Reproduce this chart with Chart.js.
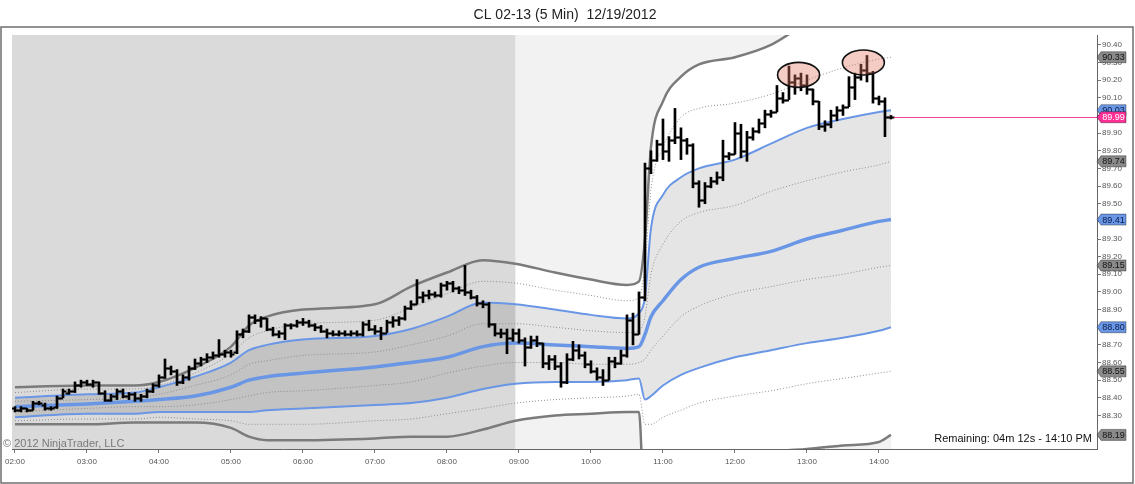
<!DOCTYPE html>
<html>
<head>
<meta charset="utf-8">
<script src="https://cdn.jsdelivr.net/npm/chart.js@4.4.1/dist/chart.umd.min.js"></script>
<style>
  body { margin: 0; background: #fff; }
  canvas { display: block; }
</style>
</head>
<body>
<canvas id="myChart" width="1135" height="484"></canvas>
<script>
const chartTitle = 'CL 02-13 (5 Min)  12/19/2012';
const watermark = '\u00A9 2012 NinjaTrader, LLC';
const remainingText = 'Remaining: 04m 12s - 14:10 PM';

// 5 minute bars, first one at 02:00
const firstBar = '02:00';
const barMinutes = 5;

const barOpen = [
  88.34, 88.33, 88.34, 88.33, 88.37, 88.36, 88.34, 88.35, 88.40, 88.43, 88.44, 88.47,
  88.49, 88.48, 88.49, 88.43, 88.39, 88.41, 88.44, 88.41, 88.42, 88.40, 88.41, 88.44,
  88.47, 88.52, 88.57, 88.55, 88.49, 88.52, 88.57, 88.60, 88.62, 88.63, 88.64, 88.65,
  88.66, 88.66, 88.76, 88.78, 88.86, 88.84, 88.85, 88.79, 88.76, 88.77, 88.81, 88.81,
  88.83, 88.83, 88.81, 88.80, 88.78, 88.77, 88.76, 88.77, 88.76, 88.77, 88.76, 88.82,
  88.79, 88.78, 88.77, 88.83, 88.84, 88.85, 88.91, 88.93, 88.97, 88.98, 88.99, 88.98,
  89.04, 89.05, 89.02, 89.01, 89.00, 88.97, 88.94, 88.93, 88.82, 88.77, 88.77, 88.74,
  88.77, 88.73, 88.69, 88.73, 88.71, 88.60, 88.62, 88.58, 88.49, 88.62, 88.67, 88.64,
  88.59, 88.55, 88.52, 88.50, 88.61, 88.60, 88.64, 88.84, 88.76, 88.97, 89.70, 89.75,
  89.84, 89.80, 89.86, 89.88, 89.86, 89.83, 89.62, 89.52, 89.60, 89.63, 89.65, 89.77,
  89.78, 89.90, 89.80, 89.88, 89.91, 89.96, 90.01, 90.02, 90.10, 90.09, 90.19, 90.21,
  90.17, 90.15, 90.08, 89.94, 89.95, 90.00, 90.03, 90.05, 90.16, 90.22, 90.26, 90.24,
  90.10, 90.08, 89.99
];
const barHigh = [
  88.35, 88.35, 88.34, 88.38, 88.38, 88.37, 88.35, 88.41, 88.45, 88.45, 88.49, 88.50,
  88.50, 88.50, 88.49, 88.44, 88.42, 88.45, 88.45, 88.43, 88.43, 88.42, 88.45, 88.48,
  88.53, 88.62, 88.58, 88.56, 88.53, 88.58, 88.62, 88.63, 88.65, 88.66, 88.73, 88.67,
  88.67, 88.78, 88.79, 88.87, 88.87, 88.86, 88.85, 88.80, 88.78, 88.82, 88.82, 88.84,
  88.85, 88.84, 88.82, 88.81, 88.79, 88.78, 88.78, 88.78, 88.78, 88.78, 88.83, 88.84,
  88.81, 88.80, 88.84, 88.86, 88.86, 88.92, 88.95, 89.07, 89.00, 89.01, 89.00, 89.05,
  89.06, 89.06, 89.03, 89.15, 89.01, 88.98, 88.95, 88.94, 88.82, 88.79, 88.79, 88.79,
  88.79, 88.74, 88.75, 88.75, 88.71, 88.64, 88.64, 88.60, 88.65, 88.72, 88.70, 88.66,
  88.61, 88.57, 88.56, 88.63, 88.63, 88.67, 88.87, 88.88, 89.00, 89.73, 89.80, 89.86,
  89.98, 89.88, 90.04, 89.93, 89.87, 89.84, 89.63, 89.62, 89.65, 89.68, 89.86, 89.79,
  89.96, 89.95, 89.91, 89.93, 89.98, 90.03, 90.03, 90.17, 90.13, 90.28, 90.23, 90.24,
  90.23, 90.15, 90.08, 89.97, 90.03, 90.05, 90.06, 90.22, 90.24, 90.29, 90.34, 90.25,
  90.11, 90.10, 90.00
];
const barLow = [
  88.32, 88.32, 88.32, 88.33, 88.36, 88.33, 88.33, 88.34, 88.40, 88.42, 88.43, 88.46,
  88.47, 88.46, 88.42, 88.38, 88.38, 88.39, 88.40, 88.39, 88.38, 88.38, 88.40, 88.43,
  88.46, 88.51, 88.53, 88.47, 88.48, 88.50, 88.56, 88.58, 88.60, 88.62, 88.63, 88.63,
  88.63, 88.65, 88.74, 88.77, 88.82, 88.80, 88.78, 88.75, 88.74, 88.73, 88.79, 88.80,
  88.81, 88.80, 88.78, 88.77, 88.74, 88.75, 88.75, 88.75, 88.75, 88.75, 88.75, 88.78,
  88.76, 88.73, 88.77, 88.80, 88.81, 88.84, 88.90, 88.93, 88.94, 88.96, 88.97, 88.97,
  89.01, 89.00, 88.99, 88.98, 88.96, 88.92, 88.91, 88.80, 88.75, 88.74, 88.65, 88.72,
  88.71, 88.58, 88.68, 88.69, 88.57, 88.56, 88.56, 88.46, 88.48, 88.61, 88.62, 88.57,
  88.54, 88.50, 88.47, 88.50, 88.57, 88.59, 88.63, 88.70, 88.76, 88.95, 89.67, 89.74,
  89.75, 89.74, 89.84, 89.75, 89.78, 89.59, 89.48, 89.50, 89.59, 89.61, 89.63, 89.75,
  89.78, 89.76, 89.74, 89.86, 89.90, 89.93, 89.99, 90.02, 90.07, 90.09, 90.12, 90.14,
  90.12, 90.06, 89.92, 89.91, 89.93, 89.97, 90.00, 90.05, 90.09, 90.20, 90.19, 90.07,
  90.06, 89.88, 89.98
];
const barClose = [
  88.33, 88.34, 88.33, 88.37, 88.37, 88.34, 88.34, 88.40, 88.44, 88.44, 88.47, 88.49,
  88.48, 88.49, 88.43, 88.39, 88.41, 88.44, 88.41, 88.42, 88.40, 88.41, 88.44, 88.47,
  88.52, 88.57, 88.55, 88.49, 88.52, 88.57, 88.60, 88.62, 88.63, 88.64, 88.65, 88.66,
  88.65, 88.76, 88.78, 88.86, 88.84, 88.85, 88.79, 88.76, 88.77, 88.81, 88.81, 88.83,
  88.83, 88.81, 88.80, 88.78, 88.77, 88.76, 88.77, 88.76, 88.77, 88.76, 88.82, 88.79,
  88.78, 88.77, 88.83, 88.84, 88.85, 88.91, 88.93, 88.97, 88.98, 88.99, 88.98, 89.04,
  89.05, 89.02, 89.01, 89.00, 88.97, 88.94, 88.93, 88.82, 88.77, 88.77, 88.74, 88.77,
  88.73, 88.69, 88.73, 88.71, 88.60, 88.62, 88.58, 88.49, 88.62, 88.67, 88.64, 88.59,
  88.55, 88.52, 88.50, 88.61, 88.60, 88.64, 88.84, 88.76, 88.97, 89.70, 89.75, 89.84,
  89.80, 89.86, 89.88, 89.86, 89.83, 89.62, 89.52, 89.60, 89.63, 89.65, 89.77, 89.78,
  89.90, 89.80, 89.88, 89.91, 89.96, 90.01, 90.02, 90.10, 90.09, 90.19, 90.21, 90.17,
  90.15, 90.08, 89.94, 89.95, 90.00, 90.03, 90.05, 90.16, 90.22, 90.26, 90.24, 90.10,
  90.08, 89.99, 89.99
];

// VWAP and its deviation bands, read at these times
const bandTimes = ['02:00', '03:00', '03:40', '04:00', '04:30', '05:00', '05:15', '05:30', '06:00', '07:00',
  '07:30', '08:00', '08:30', '08:57', '09:30', '10:00', '10:30', '10:40', '10:45', '10:50',
  '11:00', '11:15', '11:30', '12:00', '12:30', '13:00', '13:30', '14:00', '14:10'];
const vwap = [88.35, 88.365, 88.38, 88.39, 88.41, 88.46, 88.50, 88.52, 88.54, 88.575,
  88.60, 88.63, 88.69, 88.71, 88.70, 88.69, 88.68, 88.69, 88.76, 88.86,
  88.95, 89.07, 89.14, 89.19, 89.23, 89.30, 89.35, 89.40, 89.41];
const upper1 = [88.38, 88.39, 88.40, 88.42, 88.47, 88.53, 88.59, 88.61, 88.64, 88.66,
  88.70, 88.75, 88.82, 88.82, 88.80, 88.78, 88.77, 88.78, 88.86, 89.10,
  89.27, 89.40, 89.45, 89.49, 89.57, 89.63, 89.68, 89.72, 89.74];
const lower1 = [88.32, 88.34, 88.35, 88.35, 88.36, 88.39, 88.41, 88.43, 88.44, 88.47,
  88.49, 88.54, 88.58, 88.60, 88.60, 88.59, 88.59, 88.60, 88.62, 88.67,
  88.75, 88.86, 88.92, 88.99, 89.03, 89.07, 89.10, 89.14, 89.15];
const upper2 = [88.40, 88.42, 88.43, 88.46, 88.52, 88.60, 88.67, 88.70, 88.73, 88.75,
  88.79, 88.86, 88.94, 88.93, 88.90, 88.87, 88.85, 88.88, 88.97, 89.36,
  89.55, 89.65, 89.70, 89.75, 89.84, 89.93, 89.98, 90.02, 90.03];
const lower2 = [88.29, 88.31, 88.31, 88.32, 88.32, 88.32, 88.32, 88.33, 88.34, 88.36,
  88.37, 88.40, 88.45, 88.48, 88.49, 88.49, 88.50, 88.51, 88.39, 88.41,
  88.47, 88.53, 88.57, 88.63, 88.67, 88.71, 88.74, 88.78, 88.80];
const upper3 = [88.43, 88.45, 88.45, 88.47, 88.54, 88.65, 88.74, 88.78, 88.82, 88.84,
  88.91, 88.99, 89.06, 89.05, 89.01, 88.98, 88.95, 88.97, 89.15, 89.58,
  89.82, 89.99, 90.04, 90.07, 90.12, 90.20, 90.27, 90.32, 90.33];
const lower3 = [88.27, 88.28, 88.28, 88.29, 88.28, 88.27, 88.25, 88.25, 88.25, 88.27,
  88.28, 88.31, 88.34, 88.37, 88.39, 88.40, 88.41, 88.42, 88.25, 88.25,
  88.29, 88.33, 88.37, 88.41, 88.44, 88.48, 88.51, 88.54, 88.55];
const upper4 = [88.46, 88.47, 88.47, 88.49, 88.57, 88.69, 88.81, 88.86, 88.90, 88.93,
  89.03, 89.11, 89.18, 89.16, 89.11, 89.07, 89.04, 89.06, 89.30, 89.82,
  90.08, 90.22, 90.29, 90.33, 90.40, 90.52, 90.57, 90.62, 90.65];
const lower4 = [88.25, 88.25, 88.26, 88.26, 88.26, 88.23, 88.18, 88.16, 88.16, 88.17,
  88.18, 88.18, 88.22, 88.27, 88.30, 88.31, 88.32, 88.32, 87.70, 87.72,
  87.80, 87.88, 87.93, 88.01, 88.09, 88.11, 88.13, 88.15, 88.19];

const lastPrice = 89.99;
const yTicks = [88.30, 88.40, 88.50, 88.60, 88.70, 88.80, 88.90, 89.00, 89.10, 89.20, 89.30,
  89.40, 89.50, 89.60, 89.70, 89.80, 89.90, 90.00, 90.10, 90.20, 90.30, 90.40];
const xTicks = ['02:00', '03:00', '04:00', '05:00', '06:00', '07:00', '08:00', '09:00',
  '10:00', '11:00', '12:00', '13:00', '14:00'];
const sessionShade = ['01:57', '08:57'];
const outerFillFrom = '08:57';
// circled highs: [time, price]
const highlights = [['12:53', 90.23], ['13:47', 90.30]];

const toMin = s => { const p = s.split(':'); return Number(p[0]) * 60 + Number(p[1]); };
const toLabel = m => String(Math.floor(m / 60)).padStart(2, '0') + ':' + String(m % 60).padStart(2, '0');

const barTimes = barOpen.map((v, i) => toMin(firstBar) + i * barMinutes);
const series = vals => vals.map((v, i) => ({ x: toMin(bandTimes[i]), y: v }));
const fromIdx = bandTimes.indexOf(outerFillFrom);

const BLUE = '#6a96e6';
const DARK = '#7b7b7b';
const DOT = '#8e8e8e';
const BAND_FILL = 'rgba(0,0,0,0.1)';
const OUTER_FILL = 'rgba(0,0,0,0.05)';

const lineDs = (label, points, color, width, extra) => Object.assign({
  type: 'line',
  label: label,
  data: points,
  borderColor: color,
  borderWidth: width,
  pointRadius: 0,
  cubicInterpolationMode: 'monotone',
  fill: false,
  clip: 0
}, extra || {});

// background shading for the overnight session
const sessionPlugin = {
  id: 'sessionShade',
  beforeDatasetsDraw(chart) {
    const { ctx, chartArea, scales: { x } } = chart;
    const x0 = Math.max(chartArea.left, x.getPixelForValue(toMin(sessionShade[0])));
    const x1 = x.getPixelForValue(toMin(sessionShade[1]));
    ctx.save();
    ctx.fillStyle = '#dadada';
    ctx.fillRect(x0, chartArea.top, x1 - x0, chartArea.bottom - chartArea.top);
    ctx.restore();
  }
};

// open / close ticks of the OHLC bars and the circled highs
const ohlcPlugin = {
  id: 'ohlcTicks',
  afterDatasetsDraw(chart) {
    const { ctx, chartArea, scales: { x, y } } = chart;
    ctx.save();
    ctx.beginPath();
    ctx.rect(chartArea.left, chartArea.top, chartArea.right - chartArea.left, chartArea.bottom - chartArea.top);
    ctx.clip();
    ctx.strokeStyle = '#000';
    ctx.lineWidth = 2;
    barTimes.forEach((t, i) => {
      const px = x.getPixelForValue(t);
      const yo = Math.round(y.getPixelForValue(barOpen[i])) + 0.5;
      const yc = Math.round(y.getPixelForValue(barClose[i])) + 0.5;
      ctx.beginPath();
      ctx.moveTo(px - 3.5, yo);
      ctx.lineTo(px, yo);
      ctx.moveTo(px, yc);
      ctx.lineTo(px + 3.5, yc);
      ctx.stroke();
    });

    highlights.forEach(h => {
      const cx = x.getPixelForValue(toMin(h[0]));
      const cy = y.getPixelForValue(h[1]);
      ctx.beginPath();
      ctx.ellipse(cx, cy, 21, 12.5, 0, 0, Math.PI * 2);
      ctx.fillStyle = 'rgba(230, 120, 100, 0.38)';
      ctx.fill();
      ctx.lineWidth = 1.6;
      ctx.strokeStyle = '#111';
      ctx.stroke();
    });
    ctx.restore();
  }
};

const drawTag = (ctx, left, yPix, text, bg, fg) => {
  const h = 11;
  const x1 = left + 4;
  const x2 = left + 29;
  ctx.beginPath();
  ctx.moveTo(left, yPix);
  ctx.lineTo(x1, yPix - h / 2);
  ctx.lineTo(x2, yPix - h / 2);
  ctx.lineTo(x2, yPix + h / 2);
  ctx.lineTo(x1, yPix + h / 2);
  ctx.closePath();
  ctx.fillStyle = bg;
  ctx.fill();
  ctx.lineWidth = 0.8;
  ctx.strokeStyle = 'rgba(0,0,0,0.45)';
  ctx.stroke();
  ctx.fillStyle = fg;
  ctx.fillText(text, (x1 + x2) / 2, yPix + 0.5);
};

// title, texts, price line and the value tags on the price axis
const overlayPlugin = {
  id: 'overlay',
  afterDraw(chart) {
    const { ctx, chartArea, scales: { x, y } } = chart;
    ctx.save();

    ctx.strokeStyle = '#6e6e6e';
    ctx.lineWidth = 1.5;
    ctx.strokeRect(1, 27, 1132, 456);

    ctx.fillStyle = '#222';
    ctx.font = '14px "Liberation Sans", Arial, sans-serif';
    ctx.textAlign = 'center';
    ctx.textBaseline = 'alphabetic';
    ctx.fillText(chartTitle, 565, 19);

    ctx.font = '11px "Liberation Sans", Arial, sans-serif';
    ctx.textAlign = 'left';
    ctx.fillStyle = '#7a7a7a';
    ctx.fillText(watermark, 3, 447);
    ctx.textAlign = 'right';
    ctx.fillStyle = '#111';
    ctx.fillText(remainingText, chartArea.right - 5, 442);

    // last price line
    const yp = Math.round(y.getPixelForValue(lastPrice)) + 0.5;
    ctx.strokeStyle = '#f0469a';
    ctx.lineWidth = 1;
    ctx.beginPath();
    ctx.moveTo(x.getPixelForValue(barTimes[barTimes.length - 1]) + 3, yp);
    ctx.lineTo(chartArea.right, yp);
    ctx.stroke();

    const last = a => a[a.length - 1];
    const tags = [
      [last(upper3), '#8a8a8a', '#111'],
      [last(upper2), BLUE, '#0c1d4a'],
      [last(upper1), '#8a8a8a', '#111'],
      [last(vwap), BLUE, '#0c1d4a'],
      [last(lower1), '#8a8a8a', '#111'],
      [last(lower2), BLUE, '#0c1d4a'],
      [last(lower3), '#8a8a8a', '#111'],
      [last(lower4), '#8a8a8a', '#111'],
      [lastPrice, '#ff2f95', '#fff']
    ];
    ctx.font = '9px "Liberation Sans", Arial, sans-serif';
    ctx.textAlign = 'center';
    ctx.textBaseline = 'middle';
    tags.forEach(t => {
      drawTag(ctx, chartArea.right, y.getPixelForValue(t[0]), t[0].toFixed(2), t[1], t[2]);
    });
    ctx.restore();
  }
};

const ctx = document.getElementById('myChart').getContext('2d');
const myChart = new Chart(ctx, {
  type: 'line',
  data: {
    datasets: [
      {
        type: 'bar',
        label: 'CL 02-13',
        data: barTimes.map((t, i) => ({ x: t, y: [barLow[i], barHigh[i]] })),
        backgroundColor: '#000',
        barThickness: 2,
        order: 0
      },
      lineDs('+4', series(upper4), DARK, 2.5, { order: 5 }),
      lineDs('-4', series(lower4), DARK, 2.5, { order: 5 }),
      lineDs('+3', series(upper3), DOT, 1, { order: 5, borderDash: [1, 2] }),
      lineDs('-3', series(lower3), DOT, 1, { order: 5, borderDash: [1, 2] }),
      lineDs('+2', series(upper2), BLUE, 2, { order: 10, fill: { target: 6, above: BAND_FILL, below: BAND_FILL } }),
      lineDs('-2', series(lower2), BLUE, 2, { order: 4 }),
      lineDs('+1', series(upper1), DOT, 1, { order: 5, borderDash: [1, 2] }),
      lineDs('-1', series(lower1), DOT, 1, { order: 5, borderDash: [1, 2] }),
      lineDs('VWAP', series(vwap), BLUE, 3.5, { order: 2 }),
      // light area outside the outer bands after the session break
      lineDs('+4 fill', series(upper4).slice(fromIdx), 'rgba(0,0,0,0)', 0, {
        order: 20, fill: { target: 'end', above: OUTER_FILL, below: OUTER_FILL }
      }),
      lineDs('-4 fill', series(lower4).slice(fromIdx), 'rgba(0,0,0,0)', 0, {
        order: 20, fill: { target: 'start', above: OUTER_FILL, below: OUTER_FILL }
      })
    ]
  },
  options: {
    responsive: false,
    animation: false,
    devicePixelRatio: 1,
    layout: { padding: { left: 12, top: 35, right: 0, bottom: 0 } },
    plugins: {
      legend: { display: false },
      tooltip: { enabled: false },
      title: { display: false }
    },
    scales: {
      x: {
        type: 'linear',
        min: 117.5,
        max: 1021.7,
        offset: false,
        afterFit: scale => { scale.height = 35; },
        afterBuildTicks: scale => { scale.ticks = xTicks.map(s => ({ value: toMin(s) })); },
        grid: { display: true, drawOnChartArea: false, drawTicks: true, tickLength: 4, color: '#777', offset: false },
        border: { display: true, color: '#666' },
        ticks: {
          autoSkip: false,
          maxRotation: 0,
          padding: 4,
          color: '#555',
          font: { size: 8, family: '"Liberation Sans", Arial, sans-serif' },
          callback: value => toLabel(value)
        }
      },
      y: {
        type: 'linear',
        position: 'right',
        min: 88.11,
        max: 90.456,
        afterFit: scale => { scale.width = 38; },
        afterBuildTicks: scale => { scale.ticks = yTicks.map(v => ({ value: v })); },
        grid: { display: true, drawOnChartArea: false, drawTicks: true, tickLength: 4, color: '#777' },
        border: { display: true, color: '#666' },
        ticks: {
          padding: 1,
          color: '#555',
          font: { size: 8, family: '"Liberation Sans", Arial, sans-serif' },
          callback: value => Number(value).toFixed(2)
        }
      }
    }
  },
  plugins: [sessionPlugin, ohlcPlugin, overlayPlugin]
});
</script>
</body>
</html>
